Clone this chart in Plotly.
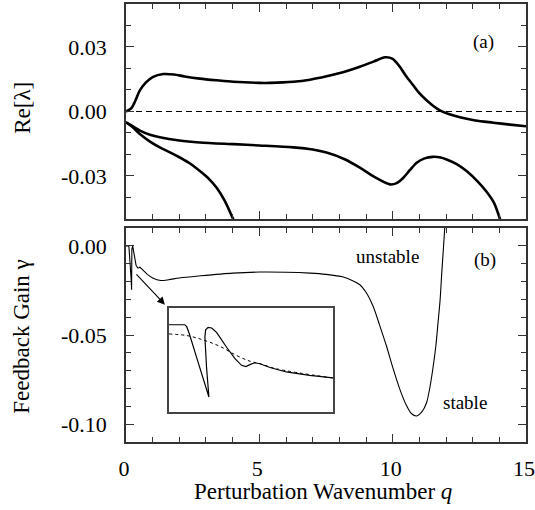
import plotly.graph_objects as go

# ---- data: panel (a) growth rates Re[lambda] vs q ----
q_a1 = [0, 0.2, 0.35, 0.52, 0.75, 1.0, 1.4, 1.8, 2.2, 2.77, 3.4, 4.03, 5.0, 5.4, 6.27, 6.9, 7.52,
        8.2, 8.77, 9.3, 9.71, 10.0, 10.27, 10.5, 10.77, 11.0, 11.27, 11.5, 11.77, 12.1, 12.52,
        13.1, 13.77, 14.4, 15.0]
re_a1 = [0, 0.0015, 0.005, 0.0098, 0.0135, 0.016, 0.0174, 0.0172, 0.0163, 0.0153, 0.0145, 0.0138,
         0.0133, 0.0133, 0.0138, 0.0148, 0.0164, 0.0185, 0.0208, 0.0233, 0.0252, 0.0245, 0.0208,
         0.0165, 0.0122, 0.0085, 0.0052, 0.0028, 0.0005, -0.0012, -0.0027, -0.0042, -0.0052,
         -0.0061, -0.0069]

q_a2 = [0, 0.2, 0.52, 0.9, 1.27, 2.0, 2.77, 4.03, 5.0, 6.27, 7.0, 7.52, 8.2, 8.77, 9.3, 9.9,
        10.15, 10.4, 10.65, 10.9, 11.2, 11.5, 11.8, 12.0, 12.4, 12.77, 13.2, 13.5, 13.8, 14.05]
re_a2 = [-0.005, -0.0065, -0.0089, -0.0108, -0.012, -0.0135, -0.0144, -0.0152, -0.0158, -0.0167,
         -0.0177, -0.0191, -0.0222, -0.0261, -0.0303, -0.0339, -0.0333, -0.0308, -0.0272, -0.0238,
         -0.0218, -0.0211, -0.0214, -0.0222, -0.0245, -0.0277, -0.0327, -0.037, -0.0425, -0.051]

q_a3 = [0, 0.2, 0.52, 0.9, 1.27, 1.65, 2.02, 2.4, 2.77, 3.1, 3.4, 3.7, 4.03, 4.1]
re_a3 = [-0.005, -0.0068, -0.0105, -0.014, -0.0167, -0.019, -0.0214, -0.0242, -0.0277, -0.0312,
         -0.0355, -0.0415, -0.0503, -0.052]

q_zero = [0, 15]
re_zero = [0, 0]

# ---- data: panel (b) feedback gain gamma vs q ----
q_b_low = [0, 0.08, 0.11, 0.15, 0.19, 0.21, 0.215, 0.22, 0.25, 0.3, 0.38, 0.45, 0.52, 0.6, 0.8]
g_b_low = [0.0, 0.0, -0.0005, -0.008, -0.018, -0.0246, -0.01, -0.002, 0.0, -0.004, -0.011,
           -0.0125, -0.012, -0.013, -0.016]
q_b = [0.8, 1.0, 1.3, 1.6, 2.0, 2.8, 4.0, 5.0, 6.0, 6.9, 7.5, 8.15, 8.5, 8.77, 9.0, 9.27, 9.5,
       9.77, 10.0, 10.27, 10.5, 10.7, 10.9, 11.1, 11.27, 11.4, 11.52, 11.62, 11.7, 11.78, 11.84,
       11.9, 11.96]
g_b = [-0.016, -0.018, -0.0194, -0.019, -0.018, -0.0168, -0.0153, -0.0147, -0.0148, -0.0153,
       -0.016, -0.0175, -0.0195, -0.0218, -0.026, -0.034, -0.044, -0.0563, -0.068, -0.0805,
       -0.089, -0.094, -0.0954, -0.093, -0.088, -0.079, -0.0675, -0.056, -0.0432, -0.030,
       -0.0153, -0.002, 0.012]

# ---- data: inset (magnified small-q region) ----
inset_q = [0, 0.087, 0.097, 0.112, 0.151, 0.188, 0.219, 0.206, 0.197, 0.201, 0.215, 0.234, 0.261,
           0.316, 0.362, 0.398, 0.422, 0.447, 0.471, 0.499, 0.554, 0.644, 0.772, 0.9]
inset_g = [-0.0023, -0.0023, -0.0029, -0.0052, -0.0125, -0.0193, -0.0251, -0.0157, -0.0062,
           -0.0039, -0.0031, -0.0033, -0.0047, -0.0094, -0.0130, -0.0151, -0.0155, -0.0148,
           -0.0143, -0.0146, -0.0158, -0.0172, -0.0183, -0.0191]
inset_q_dot = [0, 0.097, 0.188, 0.279, 0.371, 0.444, 0.499, 0.590, 0.9]
inset_g_dot = [-0.0052, -0.0057, -0.0071, -0.0091, -0.0120, -0.0138, -0.0146, -0.0162, -0.0191]

ya_vals = [-0.03, 0.0, 0.03]
ya_text = ["-0.03", "0.00", "0.03"]
yb_vals = [-0.10, -0.05, 0.0]
yb_text = ["-0.10", "-0.05", "0.00"]
x_vals = [0, 5, 10, 15]
x_text = ["0", "5", "10", "15"]

FONT = "Liberation Serif, Times New Roman, Times, DejaVu Serif, serif"
AX = "#333333"

fig = go.Figure()

for qq, rr in [(q_a1, re_a1), (q_a2, re_a2), (q_a3, re_a3)]:
    fig.add_trace(go.Scatter(x=qq, y=rr, mode="lines", xaxis="x", yaxis="y",
                             line=dict(color="black", width=2.6, shape="spline", smoothing=0.8),
                             showlegend=False, hoverinfo="skip"))
fig.add_trace(go.Scatter(x=q_zero, y=re_zero, mode="lines", xaxis="x", yaxis="y",
                         line=dict(color="black", width=1, dash="6px,4px"),
                         showlegend=False, hoverinfo="skip"))

fig.add_trace(go.Scatter(x=q_b_low, y=g_b_low, mode="lines", xaxis="x2", yaxis="y2",
                         line=dict(color="black", width=1.1),
                         showlegend=False, hoverinfo="skip"))
fig.add_trace(go.Scatter(x=q_b, y=g_b, mode="lines", xaxis="x2", yaxis="y2",
                         line=dict(color="black", width=1.1, shape="spline", smoothing=0.8),
                         showlegend=False, hoverinfo="skip"))

fig.add_trace(go.Scatter(x=inset_q_dot, y=inset_g_dot, mode="lines", xaxis="x3", yaxis="y3",
                         line=dict(color="black", width=1, dash="dot", shape="spline"),
                         showlegend=False, hoverinfo="skip"))
fig.add_trace(go.Scatter(x=inset_q, y=inset_g, mode="lines", xaxis="x3", yaxis="y3",
                         line=dict(color="black", width=1.2),
                         showlegend=False, hoverinfo="skip"))

tickfont = dict(family=FONT, size=22, color="black")
common_x = dict(range=[0, 15], showline=True, linecolor=AX, linewidth=1.5, mirror="ticks",
                ticks="inside", ticklen=8, tickwidth=1.2, tickcolor=AX,
                tickvals=x_vals, ticktext=x_text, showgrid=False, zeroline=False,
                ticklabeloverflow="allow", automargin=False, ticklabelstandoff=6,
                ticklabelshift=-2,
                minor=dict(ticks="inside", ticklen=5, tickwidth=1.2, tickcolor=AX,
                           dtick=1, tick0=0, showgrid=False),
                tickfont=tickfont)
common_y = dict(showline=True, linecolor=AX, linewidth=1.5, mirror="ticks",
                ticks="inside", ticklen=8, tickwidth=1.2, tickcolor=AX,
                showgrid=False, zeroline=False, tickfont=tickfont, ticklabeloverflow="allow",
                automargin=False, ticklabelstandoff=13)

fig.update_layout(
    width=535, height=510,
    margin=dict(l=0, r=0, t=0, b=0, autoexpand=False),
    paper_bgcolor="white", plot_bgcolor="white",
    xaxis=dict(common_x, domain=[0.2355, 0.9832], anchor="y", showticklabels=False),
    yaxis=dict(common_y, domain=[0.5706, 0.9922], anchor="x", range=[-0.05, 0.05],
               tickvals=ya_vals, ticktext=ya_text,
               minor=dict(ticks="inside", ticklen=5, tickwidth=1.2, tickcolor=AX,
                          dtick=0.01, tick0=0, showgrid=False)),
    xaxis2=dict(common_x, domain=[0.2355, 0.9832], anchor="y2"),
    yaxis2=dict(common_y, domain=[0.1333, 0.5529], anchor="x2", range=[-0.11, 0.01],
                tickvals=yb_vals, ticktext=yb_text,
                minor=dict(ticks="inside", ticklen=5, tickwidth=1.2, tickcolor=AX,
                           dtick=0.01, tick0=0, showgrid=False)),
    xaxis3=dict(domain=[0.3159, 0.6224], anchor="y3", range=[0, 0.9], showline=True,
                linecolor="#444444", linewidth=1.5, mirror=True, showticklabels=False,
                ticks="", showgrid=False, zeroline=False, automargin=False),
    yaxis3=dict(domain=[0.1912, 0.3961], anchor="x3", range=[-0.030, 0.003], showline=True,
                linecolor="#444444", linewidth=1.5, mirror=True, showticklabels=False,
                ticks="", showgrid=False, zeroline=False, automargin=False),
    showlegend=False,
)

ann_font = dict(family=FONT, size=19, color="black")
title_font = dict(family=FONT, size=23, color="black")
fig.add_annotation(text="(a)", x=13.39, y=0.0325, xref="x", yref="y", showarrow=False, font=ann_font)
fig.add_annotation(text="(b)", x=13.46, y=-0.0078, xref="x2", yref="y2", showarrow=False, font=ann_font)
fig.add_annotation(text="unstable", x=9.81, y=-0.0057, xref="x2", yref="y2", showarrow=False, font=ann_font)
fig.add_annotation(text="stable", x=12.73, y=-0.0879, xref="x2", yref="y2", showarrow=False, font=ann_font)
fig.add_annotation(text="Re[λ]", x=0.0405, y=0.788, xref="paper", yref="paper", textangle=-90,
                   showarrow=False, font=title_font, xanchor="center", yanchor="middle")
fig.add_annotation(text="Feedback Gain γ", x=0.0395, y=0.340, xref="paper", yref="paper",
                   textangle=-90, showarrow=False, font=title_font, xanchor="center", yanchor="middle")
fig.add_annotation(text="Perturbation Wavenumber <i>q</i>", x=0.6037, y=0.0359, xref="paper",
                   yref="paper", showarrow=False, font=title_font, xanchor="center", yanchor="middle")
# arrow from the small-q region to the inset
fig.add_annotation(x=1.46, y=-0.033, ax=0.34, ay=-0.0151, xref="x2", yref="y2",
                   axref="x2", ayref="y2", showarrow=True, arrowhead=2, arrowsize=1.4,
                   arrowwidth=1.1, arrowcolor="black", text="")

# remove the default page margin so the 535x510 figure fills the window exactly
fig.write_html("out.html", config={"displayModeBar": False},
               post_script="document.body.style.margin='0';document.body.style.overflow='hidden';")
